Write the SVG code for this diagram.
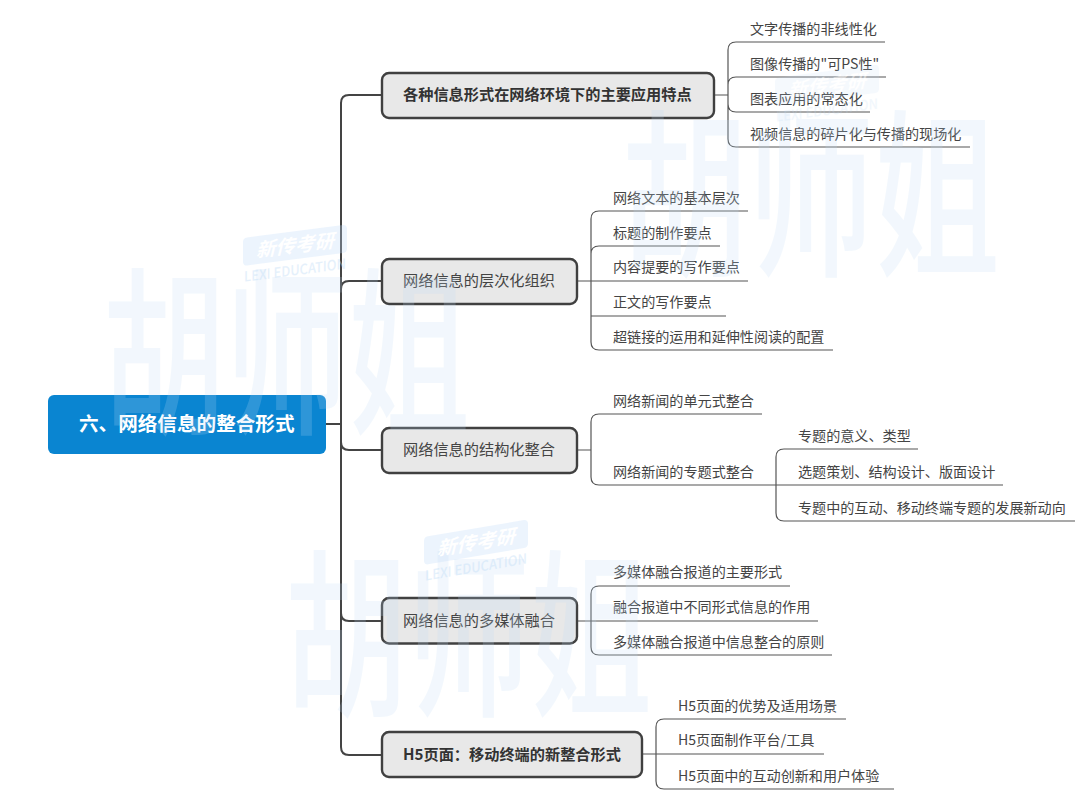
<svg xmlns="http://www.w3.org/2000/svg" width="1080" height="810" viewBox="0 0 1080 810">
<style>
text{font-family:"Noto Sans CJK SC","Noto Sans",sans-serif;}
.leaf{font-size:14.1px;fill:#444;}
.main{font-size:15.2px;fill:#444;}
.b{font-weight:700;fill:#333;}
.box{fill:#e8e8e8;stroke:#404040;stroke-width:2.4;}
.trunk{fill:none;stroke:#444;stroke-width:2;}
.thin{fill:none;stroke:#555;stroke-width:1.2;}
.wm{fill:#bfdcf7;opacity:.2;font-weight:500;font-size:180px;}
.plate{fill:#bfdcf7;opacity:.3;}
.logo{font-size:19px;font-weight:700;font-style:italic;fill:#fff;}
.edu{fill:#bfdcf7;opacity:.4;font-size:14px;font-weight:500;}
</style>
<defs>
<g id="lg">
<rect x="0" y="0" width="104" height="28" rx="4" class="plate"/>
<text class="logo" x="13" y="21" textLength="78" lengthAdjust="spacingAndGlyphs">新传考研</text>
<text class="edu" x="1" y="44" textLength="102" lengthAdjust="spacingAndGlyphs">LEXI EDUCATION</text>
</g>
</defs>
<rect width="1080" height="810" fill="#fff"/>
<g id="connectors">
<path class="trunk" d="M326 424H341M382 95H349Q341 95 341 103V747Q341 755 349 755H382M382 281H349Q341 281 341 289M382 450H349Q341 450 341 442M382 621H349Q341 621 341 613"/>
<path class="thin" d="M714 95H728M885 42H736Q728 42 728 50V139Q728 147 736 147H970M886 77H736Q728 77 728 85M870 112H736Q728 112 728 104"/>
<path class="thin" d="M577 281H748M748 211H599Q591 211 591 219V342Q591 350 599 350H833M720 246H599Q591 246 591 254M726 316H591"/>
<path class="thin" d="M577 450H591M762 414H599Q591 414 591 422V477Q591 485 599 485H1003M918 449H784Q776 449 776 457V513Q776 521 784 521H1075"/>
<path class="thin" d="M577 621H818M790 586H599Q591 586 591 594V647Q591 655 599 655H832"/>
<path class="thin" d="M642 754H824M846 719H664Q656 719 656 727V781Q656 789 664 789H894"/>
</g>
<g id="root"><rect x="48" y="395" width="278" height="59" rx="6" fill="#0a85d1"/><text x="79" y="431" font-size="19.6" font-weight="700" fill="#fff">六、网络信息的整合形式</text></g>
<g id="n1"><rect class="box" x="382" y="73" width="332" height="45" rx="7"/><text class="main b" x="403" y="100">各种信息形式在网络环境下的主要应用特点</text></g>
<g id="n2"><rect class="box" x="382" y="259" width="195" height="45" rx="7"/><text class="main" x="403" y="286">网络信息的层次化组织</text></g>
<g id="n3"><rect class="box" x="382" y="428" width="195" height="45" rx="7"/><text class="main" x="403" y="455">网络信息的结构化整合</text></g>
<g id="n4"><rect class="box" x="382" y="598" width="195" height="45.5" rx="7"/><text class="main" x="403" y="626">网络信息的多媒体融合</text></g>
<g id="n5"><rect class="box" x="382" y="732" width="260" height="45" rx="7"/><text class="main b" x="403" y="760">H5页面：移动终端的新整合形式</text></g>
<g id="l11"><text class="leaf" x="750" y="33.500">文字传播的非线性化</text></g>
<g id="l12"><text class="leaf" x="750" y="68.500">图像传播的"可PS性"</text></g>
<g id="l13"><text class="leaf" x="750" y="103.500">图表应用的常态化</text></g>
<g id="l14"><text class="leaf" x="750" y="138.500">视频信息的碎片化与传播的现场化</text></g>
<g id="l21"><text class="leaf" x="613" y="202.500">网络文本的基本层次</text></g>
<g id="l22"><text class="leaf" x="613" y="237.500">标题的制作要点</text></g>
<g id="l23"><text class="leaf" x="613" y="271.500">内容提要的写作要点</text></g>
<g id="l24"><text class="leaf" x="613" y="306.500">正文的写作要点</text></g>
<g id="l25"><text class="leaf" x="613" y="341.500">超链接的运用和延伸性阅读的配置</text></g>
<g id="l31"><text class="leaf" x="613" y="405.500">网络新闻的单元式整合</text></g>
<g id="l32"><text class="leaf" x="613" y="476.500">网络新闻的专题式整合</text></g>
<g id="l321"><text class="leaf" x="798" y="440.500">专题的意义、类型</text></g>
<g id="l322"><text class="leaf" x="798" y="476.500">选题策划、结构设计、版面设计</text></g>
<g id="l323"><text class="leaf" x="798" y="512.500">专题中的互动、移动终端专题的发展新动向</text></g>
<g id="l41"><text class="leaf" x="613" y="576.500">多媒体融合报道的主要形式</text></g>
<g id="l42"><text class="leaf" x="613" y="611.500">融合报道中不同形式信息的作用</text></g>
<g id="l43"><text class="leaf" x="613" y="646.500">多媒体融合报道中信息整合的原则</text></g>
<g id="l51"><text class="leaf" x="678" y="710.500">H5页面的优势及适用场景</text></g>
<g id="l52"><text class="leaf" x="678" y="744.500">H5页面制作平台/工具</text></g>
<g id="l53"><text class="leaf" x="678" y="780.500">H5页面中的互动创新和用户体验</text></g>
<g id="watermarks">
<text class="wm" transform="translate(103 420) scale(.68 1)">胡师姐</text>
<text class="wm" transform="translate(285 702) scale(.68 1)">胡师姐</text>
<text class="wm" transform="translate(622 262) scale(.7 1)">胡师姐</text>
<use href="#lg" transform="matrix(1 -.13 0 1 243 238)"/>
<use href="#lg" transform="matrix(1 -.17 0 1 424 537)"/>
<use href="#lg" transform="matrix(1 -.13 0 1 775 78)" opacity=".5"/>
</g>
</svg>
